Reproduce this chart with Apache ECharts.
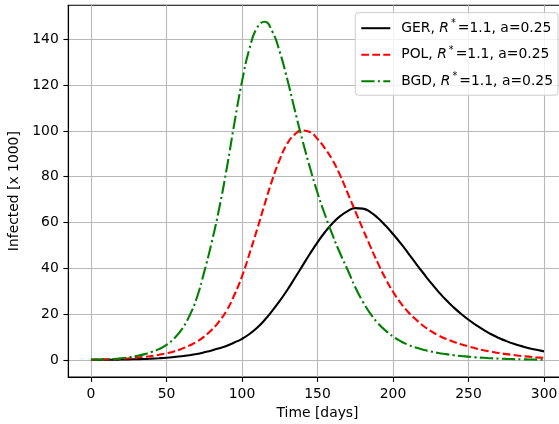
<!DOCTYPE html>
<html><head><meta charset="utf-8">
<script src="https://cdn.jsdelivr.net/npm/echarts@6/dist/echarts.min.js"></script>
<style>html,body{margin:0;padding:0;background:#fff}#c{width:559px;height:424px}</style>
</head><body><div id="c"></div>
<script>
// ---- data ----
const countries = ['GER', 'POL', 'BGD'];
const days = [0,5,10,15,20,25,30,35,40,45,50,55,60,65,70,75,80,85,90,95,100,105,110,115,120,125,130,135,140,145,150,155,160,165,170,175,180,185,190,195,200,205,210,215,220,225,230,235,240,245,250,255,260,265,270,275,280,285,290,295,300];
const gerValues = [0.10,0.12,0.15,0.2,0.25,0.32,0.4,0.5,0.65,0.83,1.05,1.35,1.7,2.15,2.7,3.4,4.2,5.2,6.3,7.7,9.3,11.4,14.1,17.5,21.5,25.8,30.6,35.8,41.1,46.4,51.4,55.9,59.7,62.8,65,66.3,66.1,64.6,62,58.7,55,51,46.7,42.3,38,33.8,29.9,26.3,23.1,20.2,17.6,15.3,13.2,11.3,9.7,8.3,7.1,6.1,5.2,4.5,3.8];
const polValues = [0.2,0.27,0.35,0.45,0.6,0.8,1.1,1.4,1.8,2.3,3.0,3.8,4.9,6.3,8.0,10.3,13.2,17.0,21.8,28.5,36.5,46.5,57,68,78.5,87.5,94.5,98.5,100.2,99.5,96.5,92.3,87.2,80.6,72.8,65,57.2,49.6,42.3,35.6,29.8,25,21,17.8,15,12.7,10.8,9.3,8,6.9,6,5.1,4.3,3.7,3.1,2.6,2.2,1.8,1.5,1.2,1.0];
const bgdValues = [0.15,0.22,0.35,0.5,0.8,1.2,1.8,2.5,3.5,4.8,6.6,9.4,13.3,19,27,38.5,51.5,66.5,84,103.5,121.5,136,145,147.6,143.5,134.5,122.5,109,96,84,73,63.3,54.5,46.5,39.3,31.8,25.5,20.3,16.1,12.9,10.3,8.3,6.7,5.5,4.5,3.75,3.1,2.6,2.15,1.8,1.5,1.2,1.0,0.8,0.65,0.52,0.42,0.34,0.27,0.21,0.17];
const xTicks = [0,50,100,150,200,250,300];
const yTicks = [0,20,40,60,80,100,120,140];
const rStar = '1.1';
const aVal = '0.25';

function pairs(xs, ys) { return xs.map((x, i) => [x, ys[i]]); }

const FONT = 'DejaVu Sans';
const FS = 13.9;
const chart = echarts.init(document.getElementById('c'), null, {renderer: 'canvas'});
chart.setOption({
  animation: false,
  backgroundColor: '#ffffff',
  textStyle: {fontFamily: FONT},
  grid: {left: 68.3, top: 5.3, right: -7.7, bottom: 47, containLabel: false, outerBoundsMode: 'none',
         show: true, borderColor: '#000', borderWidth: 1.1, backgroundColor: 'transparent'},
  xAxis: {
    type: 'value', min: -15, max: 315, splitNumber: 6,
    name: 'Time [days]', nameLocation: 'middle', nameGap: 29,
    nameTextStyle: {fontFamily: FONT, fontSize: FS, color: '#000'},
    axisLine: {show: true, onZero: false, lineStyle: {color: '#000', width: 1.1}},
    axisTick: {show: true, inside: false, length: 4.9, lineStyle: {color: '#000', width: 1.1}, customValues: xTicks},
    axisLabel: {show: true, margin: 10, fontFamily: FONT, fontSize: FS, color: '#000', customValues: xTicks},
    splitLine: {show: true, lineStyle: {color: '#b8b8b8', width: 1.1}}
  },
  yAxis: {
    type: 'value', min: -7.37, max: 154.8, splitNumber: 8,
    name: 'Infected [x 1000]', nameLocation: 'middle', nameGap: 40, nameRotate: 90,
    nameTextStyle: {fontFamily: FONT, fontSize: FS, color: '#000'},
    axisLine: {show: true, onZero: false, lineStyle: {color: '#000', width: 1.1}},
    axisTick: {show: true, inside: false, length: 4.9, lineStyle: {color: '#000', width: 1.1}, customValues: yTicks},
    axisLabel: {show: true, margin: 9.5, fontFamily: FONT, fontSize: FS, color: '#000', customValues: yTicks},
    splitLine: {show: true, lineStyle: {color: '#b8b8b8', width: 1.1}}
  },
  legend: {
    show: true, orient: 'vertical', right: 1, top: 12.7,
    padding: [6, 5, 7, 5], itemGap: 10, itemWidth: 29, itemHeight: 14,
    backgroundColor: 'rgba(255,255,255,0.8)', borderColor: '#cccccc', borderWidth: 1, borderRadius: 3,
    itemStyle: {opacity: 0},
    data: countries,
    formatter: name => '{gap|}' + name + ', {it|R}{sup|*}=' + rStar + ', a=' + aVal,
    textStyle: {
      fontFamily: FONT, fontSize: FS, color: '#000',
      rich: {
        gap: {width: 6},
        it: {fontFamily: FONT, fontSize: FS, fontStyle: 'italic', color: '#000'},
        sup: {fontFamily: FONT, fontSize: 9.7, color: '#000', padding: [0, 2, 9, 2]}
      }
    }
  },
  series: [
    {name: countries[0], type: 'line', data: pairs(days, gerValues), smooth: 0.5,
     showSymbol: false, symbol: 'none', lineStyle: {color: '#000000', width: 2.1, type: 'solid'}, itemStyle: {color: '#000000'}, z: 3},
    {name: countries[1], type: 'line', data: pairs(days, polValues), smooth: 0.5,
     showSymbol: false, symbol: 'none', lineStyle: {color: '#ff0000', width: 2.1, type: [7.7, 3.3]}, itemStyle: {color: '#ff0000'}, z: 4},
    {name: countries[2], type: 'line', data: pairs(days, bgdValues), smooth: 0.5,
     showSymbol: false, symbol: 'none', lineStyle: {color: '#008000', width: 2.1, type: [13.3, 3.3, 2.1, 3.3]}, itemStyle: {color: '#008000'}, z: 5}
  ]
});
</script>
</body></html>
